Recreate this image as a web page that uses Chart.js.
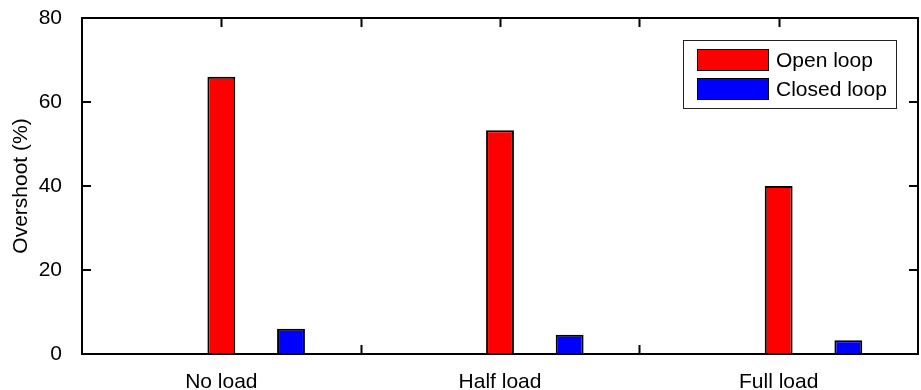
<!DOCTYPE html>
<html>
<head>
<meta charset="utf-8">
<script src="https://cdn.jsdelivr.net/npm/chart.js@4/dist/chart.umd.min.js"></script>
<style>
  html, body { margin: 0; padding: 0; background: #fff; }
  canvas { display: block; }
</style>
</head>
<body>
<canvas id="c" width="921" height="390"></canvas>
<script>
// Load conditions on the x axis
const categories = ['No load', 'Half load', 'Full load'];
// Overshoot (%) per load condition
const openLoop = [66, 53.3, 40];
const closedLoop = [6, 4.6, 3.3];
// Empty leading slot in each group (no data drawn)
const spacer = [null, null, null];
// Y axis ticks
const yTicks = [0, 20, 40, 60, 80];

const FONT = "'Liberation Sans', Arial, Helvetica, sans-serif";
const TICK_LEN = 9;

// Boxed axes with inward ticks on all four sides
const frameTicks = {
  id: 'frameTicks',
  beforeDatasetsDraw(chart) {
    const { ctx, chartArea: a, scales } = chart;
    ctx.save();
    ctx.strokeStyle = '#000';
    ctx.lineWidth = 2;
    ctx.beginPath();
    const n = chart.data.labels.length;
    for (let v = 0; v <= n - 1 + 1e-9; v += 0.5) {
      const px = Math.round(scales.x.getPixelForValue(v)) + 0.5;
      ctx.moveTo(px, a.bottom); ctx.lineTo(px, a.bottom - TICK_LEN);
      ctx.moveTo(px, a.top); ctx.lineTo(px, a.top + TICK_LEN);
    }
    yTicks.forEach(t => {
      const py = Math.round(scales.y.getPixelForValue(t));
      ctx.moveTo(a.left, py); ctx.lineTo(a.left + TICK_LEN, py);
      ctx.moveTo(a.right, py); ctx.lineTo(a.right - TICK_LEN, py);
    });
    ctx.stroke();
    ctx.restore();
  },
  afterDatasetsDraw(chart) {
    const { ctx, chartArea: a } = chart;
    ctx.save();
    ctx.strokeStyle = '#000';
    ctx.lineWidth = 2;
    ctx.strokeRect(a.left, a.top, a.right - a.left, a.bottom - a.top);
    ctx.restore();
  }
};

// Boxed legend in the upper right corner of the plot
const boxLegend = {
  id: 'boxLegend',
  afterDraw(chart) {
    const { ctx, chartArea: a } = chart;
    const items = chart.data.datasets.filter(d => d.label);
    const boxW = 213, boxH = 68;
    const x0 = a.right - 22 - boxW, y0 = a.top + 22;
    ctx.save();
    ctx.fillStyle = '#fff';
    ctx.fillRect(x0, y0, boxW, boxH);
    ctx.strokeStyle = '#222';
    ctx.lineWidth = 1;
    ctx.strokeRect(x0 + 0.5, y0 + 0.5, boxW, boxH);
    ctx.font = '21px ' + FONT;
    ctx.textBaseline = 'middle';
    ctx.textAlign = 'left';
    items.forEach((d, i) => {
      const sy = y0 + 9 + i * 29;
      ctx.fillStyle = d.backgroundColor;
      ctx.fillRect(x0 + 14, sy, 72, 22);
      ctx.strokeStyle = '#000';
      ctx.strokeRect(x0 + 14.5, sy + 0.5, 71, 21);
      ctx.fillStyle = '#000';
      ctx.fillText(d.label, x0 + 93, sy + 12);
    });
    ctx.restore();
  }
};

new Chart(document.getElementById('c'), {
  type: 'bar',
  data: {
    labels: categories,
    datasets: [
      { label: '', data: spacer, backgroundColor: '#ffffff' },
      { label: 'Open loop', data: openLoop, backgroundColor: '#ff0000', borderColor: '#000', borderWidth: 2 },
      { label: 'Closed loop', data: closedLoop, backgroundColor: '#0000ff', borderColor: '#000', borderWidth: 2 }
    ]
  },
  options: {
    responsive: false,
    animation: false,
    devicePixelRatio: 1,
    categoryPercentage: 0.75,
    barPercentage: 0.4,
    layout: { padding: { top: 18, right: 3, left: 0, bottom: 0 } },
    plugins: {
      legend: { display: false },
      tooltip: { enabled: false }
    },
    scales: {
      x: {
        type: 'category',
        offset: true,
        grid: { display: false },
        border: { display: false },
        ticks: { color: '#000', font: { family: FONT, size: 21 }, padding: 8, maxRotation: 0 },
        afterFit(s) { s.height = 36; s.paddingLeft = 0; s.paddingRight = 0; }
      },
      y: {
        min: 0, max: 80,
        grid: { display: false },
        border: { display: false },
        ticks: { stepSize: 20, color: '#000', font: { family: FONT, size: 21 }, padding: 12 },
        title: { display: true, text: 'Overshoot (%)', color: '#000', font: { family: FONT, size: 21 }, padding: { top: 9, bottom: 0 } },
        afterFit(s) { s.width = 82; s.paddingTop = 0; s.paddingBottom = 0; }
      }
    }
  },
  plugins: [frameTicks, boxLegend]
});
</script>
</body>
</html>
